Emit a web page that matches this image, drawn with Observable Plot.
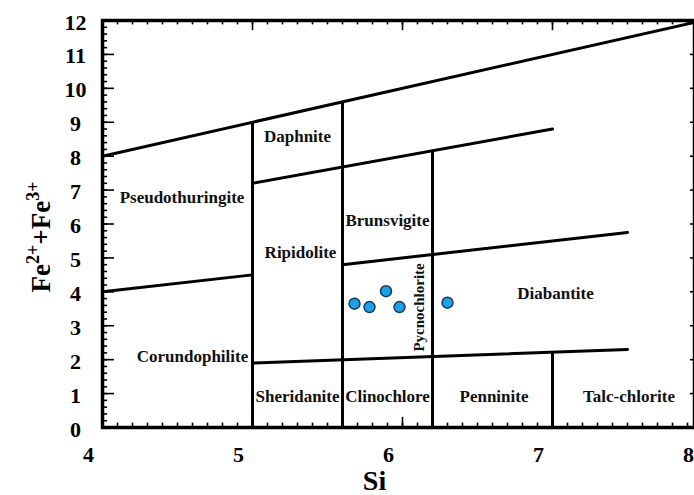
<!DOCTYPE html>
<html><head><meta charset="utf-8">
<script src="https://cdn.jsdelivr.net/npm/d3@7"></script>
<script src="https://cdn.jsdelivr.net/npm/@observablehq/plot@0.6"></script>
<style>body{margin:0;background:#fff;overflow:hidden;}</style>
</head><body><div id="chart"></div>
<script>
// Sample points (Si vs Fe2+ + Fe3+)
const siSamples = [5.68, 5.78, 5.89, 5.98, 6.30];
const feSamples = [3.65, 3.55, 4.02, 3.55, 3.68];

// Tick labels
const xTickLabels = [4, 5, 6, 7, 8];
const yTickLabels = [0, 1, 2, 3, 4, 5, 6, 7, 8, 9, 10, 11, 12];
const xMinorTicks = d3.range(40, 81).map(d => d / 10);
const xMajorTicks = [5, 6, 7];
const yMinorTicks = d3.range(0, 61).map(d => d / 5);
const yMajorTicks = yTickLabels;

// Field boundaries (Hey, 1954)
const topLineSi = [4, 8];          const topLineFe = [8, 12];
const upperLineSi = [5.0, 7.0];    const upperLineFe = [7.2, 8.8];
const midLeftSi = [4, 5.0];        const midLeftFe = [4.0, 4.5];
const midRightSi = [5.6, 7.5];     const midRightFe = [4.8, 5.75];
const lowerLineSi = [5.0, 7.5];    const lowerLineFe = [1.9, 2.3];
const verticalSi = [5.0, 5.6, 6.2, 7.0];
const verticalTopFe = [9.0, 9.6, 8.16, 2.2];

// Field names
const fieldNames = ["Daphnite", "Pseudothuringite", "Brunsvigite", "Ripidolite", "Diabantite",
  "Corundophilite", "Sheridanite", "Clinochlore", "Penninite", "Talc-chlorite"];
const fieldSi = [5.30, 4.53, 5.90, 5.32, 7.02, 4.60, 5.30, 5.90, 6.61, 7.51];
const fieldFe = [8.58, 6.78, 6.10, 5.16, 3.95, 2.09, 0.91, 0.91, 0.91, 0.91];
const rotatedName = ["Pycnochlorite"];
const rotatedSi = [6.11];
const rotatedFe = [3.54];

const seg = (xs, ys, id) => xs.map((x, i) => ({x, y: ys[i], id}));
const boundaryLines = [
  ...seg(topLineSi, topLineFe, "a"),
  ...seg(upperLineSi, upperLineFe, "b"),
  ...seg(midLeftSi, midLeftFe, "c"),
  ...seg(midRightSi, midRightFe, "d"),
  ...seg(lowerLineSi, lowerLineFe, "e")
];
const samples = siSamples.map((x, i) => ({x, y: feSamples[i]}));
const fields = fieldNames.map((n, i) => ({n, x: fieldSi[i], y: fieldFe[i]}));
const rotFields = rotatedName.map((n, i) => ({n, x: rotatedSi[i], y: rotatedFe[i]}));
const verticals = verticalSi.map((x, i) => ({x, top: verticalTopFe[i]}));

const minorX = 0.13, majorX = 0.30, minorY = 0.034, majorY = 0.08;

const chart = Plot.plot({
  width: 694, height: 495,
  marginLeft: 102, marginRight: 0, marginTop: 20, marginBottom: 68,
  x: {domain: [4, 8], range: [102, 702]},
  y: {domain: [0, 12]},
  style: {fontFamily: "'Liberation Serif', serif", background: "#fff", color: "#000"},
  marks: [
    // boundary lines
    Plot.line(boundaryLines, {x: "x", y: "y", z: "id", stroke: "#000", strokeWidth: 3}),
    Plot.ruleX(verticals, {x: "x", y1: 0, y2: "top", stroke: "#000", strokeWidth: 3}),
    // ticks (inward, all four sides)
    Plot.ruleX(xMinorTicks, {x: d => d, y1: 0, y2: minorX, strokeWidth: 1.6}),
    Plot.ruleX(xMinorTicks, {x: d => d, y1: 12 - minorX, y2: 12, strokeWidth: 1.6}),
    Plot.ruleX(xMajorTicks, {x: d => d, y1: 0, y2: majorX, strokeWidth: 1.6}),
    Plot.ruleX(xMajorTicks, {x: d => d, y1: 12 - majorX, y2: 12, strokeWidth: 1.6}),
    Plot.ruleY(yMinorTicks, {y: d => d, x1: 4, x2: 4 + minorY, strokeWidth: 1.6}),
    Plot.ruleY(yMinorTicks, {y: d => d, x1: 8 - minorY, x2: 8, strokeWidth: 1.6}),
    Plot.ruleY(yMajorTicks, {y: d => d, x1: 4, x2: 4 + majorY, strokeWidth: 1.6}),
    Plot.ruleY(yMajorTicks, {y: d => d, x1: 8 - majorY, x2: 8, strokeWidth: 1.6}),
    Plot.frame({stroke: "#000", strokeWidth: 3.5}),
    // field names
    Plot.text(fields, {x: "x", y: "y", text: "n", fontSize: 17, fontWeight: "bold", fill: "#111"}),
    Plot.text(rotFields, {x: "x", y: "y", text: "n", rotate: -90, fontSize: 15, fontWeight: "bold", fill: "#111"}),
    // samples
    Plot.dot(samples, {x: "x", y: "y", r: 5.5, fill: "#1f9ee8", stroke: "#153a5e", strokeWidth: 1.5}),
    // axes
    Plot.axisX(xTickLabels, {tickSize: 0, tickPadding: 19, dx: -14, tickFormat: d => String(d), fontSize: 22, fontWeight: "bold", label: null}),
    Plot.axisY(yTickLabels, {tickSize: 0, tickPadding: 27, textAnchor: "middle", dy: 2, tickFormat: d => String(d), fontSize: 22, fontWeight: "bold", label: null}),
    Plot.text(["Si"], {frameAnchor: "bottom", lineAnchor: "bottom", dy: 62, dx: -24, fontSize: 28, fontWeight: "bold"})
  ]
});

const svg = d3.select(chart);
const t = svg.append("text")
  .attr("transform", "translate(50,237) rotate(-90)")
  .attr("text-anchor", "middle")
  .attr("font-family", "'Liberation Serif', serif")
  .attr("font-weight", "bold")
  .attr("font-size", 27)
  .attr("fill", "#000");
t.append("tspan").text("Fe");
t.append("tspan").attr("dy", -11).attr("font-size", 18).text("2+");
t.append("tspan").attr("dy", 11).text("+Fe");
t.append("tspan").attr("dy", -11).attr("font-size", 18).text("3+");

document.getElementById("chart").appendChild(chart);
</script>
</body></html>
